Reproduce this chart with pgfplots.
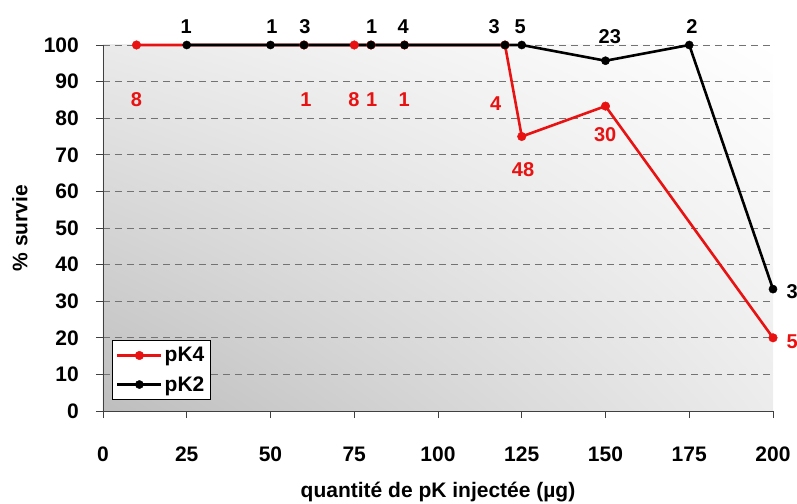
\documentclass[border=0pt]{standalone}
\usepackage{fontspec}
\setmainfont{Liberation Sans}
\usepackage{pgfplots}
\pgfplotsset{compat=1.18}
\usepackage{pgfplotstable}
\usetikzlibrary{shadings}
\definecolor{pkred}{RGB}{232,18,18}
\definecolor{bgLL}{RGB}{190,190,190}
\definecolor{bgUL}{RGB}{234,234,234}
\definecolor{bgUR}{RGB}{255,255,255}
\definecolor{bgLR}{RGB}{236,236,236}
\newcommand{\bigb}{\fontsize{21}{24}\selectfont\bfseries}
\newcommand{\lblb}{\fontsize{20}{23}\selectfont\bfseries}

\pgfplotstableread{
x y
10 100
60 100
75 100
80 100
90 100
120 100
125 75
150 83.3
200 20
}\pkfour

\pgfplotstableread{
x y
25 100
50 100
60 100
80 100
90 100
120 100
125 100
150 95.7
175 100
200 33.3
}\pktwo

\pgfplotstableread{
x y label
10.0 85 8
60.6 85 1
74.9 85 8
80.2 85 1
89.9 85 1
117.2 84 4
125.4 66 48
149.9 75.5 30
205.7 19 5
}\redlabels

\pgfplotstableread{
x y label
24.8 105 1
50.4 105 1
60.3 105 3
80.2 105 1
89.6 105 4
116.8 105 3
124.5 105 5
151.3 102.3 23
175.8 105 2
205.7 32.5 3
}\blacklabels

\begin{document}
\begin{tikzpicture}
\begin{axis}[
  name=ax,
  scale only axis,
  width=670pt, height=366pt,
  xmin=0, xmax=200, ymin=0, ymax=100,
  xtick={0,25,...,200},
  ytick={0,10,...,100},
  clip=false,
  axis x line*=bottom, axis y line*=left,
  axis line style={-, line width=0.9pt, black!75},
  tick align=outside,
  major tick length=7pt,
  tick style={black!75, line width=0.9pt},
  ymajorgrids,
  major grid style={black!55, line width=0.9pt, dash pattern=on 7pt off 5pt},
  axis background/.style={lower left=bgLL, upper left=bgUL, upper right=bgUR, lower right=bgLR},
  /pgf/number format/assume math mode=true,
  ticklabel style={font=\bigb},
  xticklabel style={anchor=center, yshift=-36pt},
  yticklabel style={anchor=east, inner sep=0pt, xshift=-17pt},
  xlabel={quantité de pK injectée (µg)},
  ylabel={\% survie},
  every axis x label/.style={at={(axis description cs:0.5,-0.2213)}, anchor=center, font=\bigb},
  every axis y label/.style={at={(axis description cs:-0.1239,0.5)}, anchor=center, rotate=90, font=\bigb},
  legend style={at={(0.013,0.03)}, anchor=south west, draw=black, line width=0.8pt, fill=white, font=\bigb, inner xsep=4pt, inner ysep=5pt, row sep=9pt},
  legend cell align=left,
  legend image code/.code={\draw[mark repeat=2, mark phase=2, #1] plot coordinates {(0pt,0pt) (22pt,0pt) (44pt,0pt)};},
]
\addplot[pkred, line width=2.6pt, mark=*, mark size=4.3pt, mark options={solid, fill=pkred, draw=pkred, line width=0.4pt}] table[x=x,y=y]{\pkfour};
\addlegendentry{pK4}
\addplot[black, line width=2.6pt, mark=*, mark size=4.1pt, mark options={solid, fill=black, draw=black, line width=0.4pt}] table[x=x,y=y]{\pktwo};
\addlegendentry{pK2}
\addplot[draw=none, mark=none, forget plot, nodes near coords, point meta=explicit symbolic, nodes near coords align=center, every node near coord/.append style={anchor=center, text=pkred, font=\lblb, inner sep=0pt}] table[x=x,y=y,meta=label]{\redlabels};
\addplot[draw=none, mark=none, forget plot, nodes near coords, point meta=explicit symbolic, nodes near coords align=center, every node near coord/.append style={anchor=center, text=black, font=\lblb, inner sep=0pt}] table[x=x,y=y,meta=label]{\blacklabels};
\end{axis}
\pgfresetboundingbox
\path[use as bounding box] ([shift={(-103pt,-92pt)}]ax.south west) rectangle ([shift={(24pt,45pt)}]ax.north east);
\end{tikzpicture}
\end{document}
